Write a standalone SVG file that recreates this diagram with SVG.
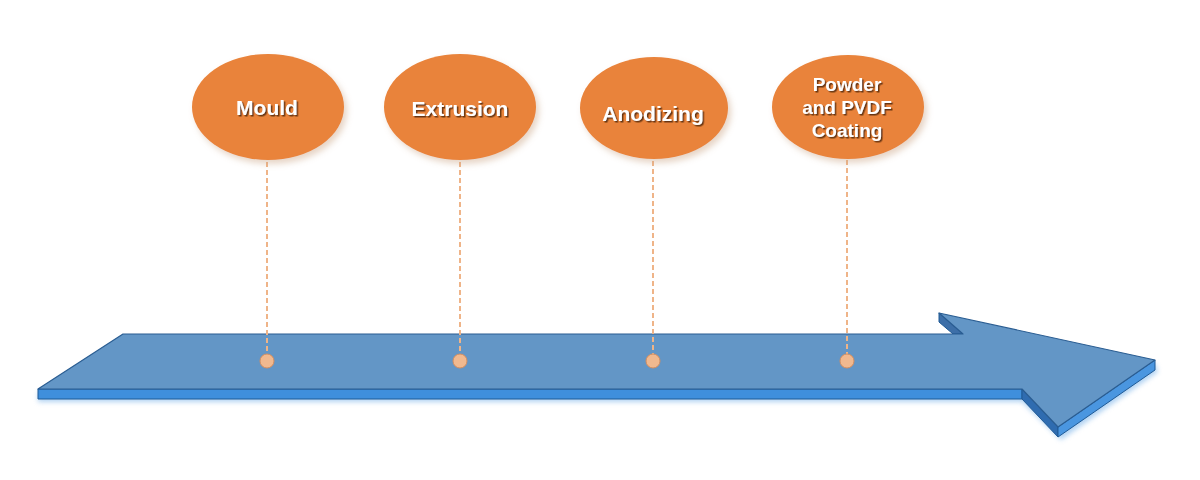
<svg xmlns="http://www.w3.org/2000/svg" width="1200" height="480" viewBox="0 0 1200 480">
<defs>
<style>
.bubble{fill:#e9833a;filter:url(#bshadow);}
.lbl{font-family:"Liberation Sans",Arial,sans-serif;font-weight:bold;fill:#ffffff;text-anchor:middle;filter:url(#tshadow);}
.big{font-size:21px;}
.small{font-size:19px;}
.stem{stroke:#efb488;stroke-width:2;stroke-dasharray:5 3;fill:none;}
.dot{fill:#f1b98f;stroke:#d58e5f;stroke-width:1;}
.edge{stroke:#1f5a96;stroke-width:1;stroke-linejoin:round;}
</style>
<filter id="bshadow" x="-20%" y="-20%" width="150%" height="150%">
<feDropShadow dx="3" dy="4" stdDeviation="3" flood-color="#c9a080" flood-opacity="0.45"/>
</filter>
<filter id="tshadow" x="-10%" y="-20%" width="130%" height="160%">
<feDropShadow dx="1.5" dy="1.5" stdDeviation="0.4" flood-color="#5a2e10" flood-opacity="0.9"/>
</filter>
<filter id="ashadow" x="-5%" y="-20%" width="110%" height="150%">
<feGaussianBlur stdDeviation="2.5"/>
</filter>
</defs>
<rect width="1200" height="480" fill="#ffffff"/>

<g id="arrow">
<polygon filter="url(#ashadow)" points="38,392 1022,392 1058,430 1155,363 1158,372 1061,440 1022,402 38,402" fill="#7fb6ea" opacity="0.6"/>
<polygon class="edge" points="38,389 1022,389 1022,399 38,399" fill="#3f8fdc"/>
<polygon class="edge" points="1022,389 1058,427 1058,437 1022,399" fill="#2f6cb0"/>
<polygon class="edge" points="1058,427 1155,360 1155,370 1058,437" fill="#4a96e0"/>
<polygon class="edge" points="939,313 963,334 953,334 939,322" fill="#3d6fa8"/>
<polygon points="123,334 963,334 939,313 1155,360 1058,427 1022,389 38,389" fill="#6396c6" stroke="#2a5d92" stroke-width="1.2" stroke-linejoin="round"/>
</g>

<g id="connectors">
<line class="stem" x1="267" y1="162" x2="267" y2="354"/>
<line class="stem" x1="460" y1="162" x2="460" y2="354"/>
<line class="stem" x1="653" y1="161" x2="653" y2="354"/>
<line class="stem" x1="847" y1="160" x2="847" y2="354"/>
<circle class="dot" cx="267" cy="361" r="7"/>
<circle class="dot" cx="460" cy="361" r="7"/>
<circle class="dot" cx="653" cy="361" r="7"/>
<circle class="dot" cx="847" cy="361" r="7"/>
</g>

<g id="mould">
<ellipse class="bubble" cx="268" cy="107" rx="76" ry="53"/>
<text class="lbl big" x="267" y="115">Mould</text>
</g>
<g id="extrusion">
<ellipse class="bubble" cx="460" cy="107" rx="76" ry="53"/>
<text class="lbl big" x="460" y="116">Extrusion</text>
</g>
<g id="anodizing">
<ellipse class="bubble" cx="654" cy="108" rx="74" ry="51"/>
<text class="lbl big" x="653" y="121">Anodizing</text>
</g>
<g id="coating">
<ellipse class="bubble" cx="848" cy="107" rx="76" ry="52"/>
<text class="lbl small" x="847" y="91">Powder</text>
<text class="lbl small" x="847" y="114">and PVDF</text>
<text class="lbl small" x="847" y="137">Coating</text>
</g>
</svg>
